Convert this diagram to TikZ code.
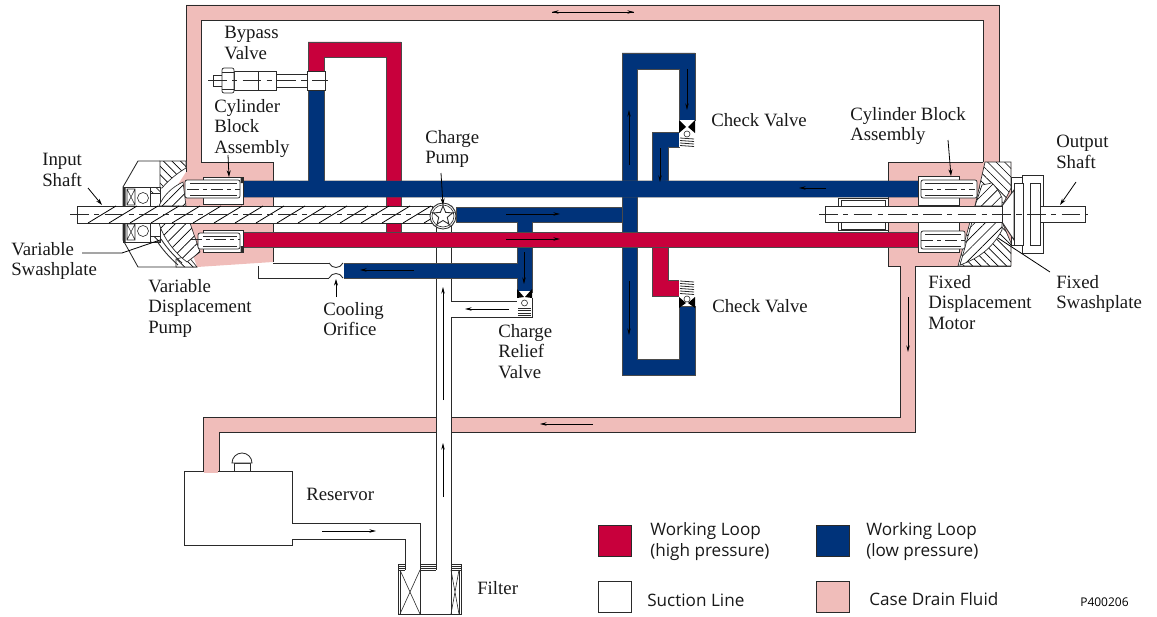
\documentclass[tikz,border=0pt]{standalone}
\usepackage{fontspec}
\setmainfont{Liberation Serif}
\newfontfamily\legendfont{Open Sans}
\usetikzlibrary{patterns.meta,arrows.meta}
\definecolor{hired}{HTML}{C8003C}
\definecolor{lowblue}{HTML}{00337A}
\definecolor{casepink}{HTML}{F0BDBA}
\definecolor{edge}{HTML}{2A2A2A}
\tikzset{
  pipeH/.style={fill=hired,draw=edge!85,line width=0.5pt},
  pipeL/.style={fill=lowblue,draw=edge!85,line width=0.5pt},
  ln/.style={draw=edge,line width=0.65pt},
  thin ln/.style={draw=edge,line width=0.45pt},
  hatch ln/.style={draw=black,line width=0.6pt},
  flow/.style={draw=black,line width=0.55pt,-{Stealth[length=5pt,width=2.6pt]}},
  lead/.style={draw=black,line width=0.6pt,-{Stealth[length=5pt,width=3pt]}},
  center dash/.style={draw=edge,line width=0.45pt,dash pattern=on 14pt off 4pt on 4pt off 4pt},
  short dash/.style={draw=edge,line width=0.45pt,dash pattern=on 9pt off 3pt on 3pt off 3pt},
  hatchA/.style={draw=edge,line width=0.5pt,preaction={fill=white},pattern={Lines[angle=45,distance=5.5pt,line width=0.5pt]},pattern color=black},
  hatchB/.style={draw=edge,line width=0.5pt,preaction={fill=white},pattern={Lines[angle=-45,distance=4.5pt,line width=0.5pt]},pattern color=black},
  lab/.style={anchor=north west,inner sep=0pt,align=left,font=\fontsize{14.1}{15.5}\selectfont,text=black!90},
  leg/.style={anchor=west,inner sep=0pt,align=left,font=\legendfont\fontsize{12.85}{15.6}\selectfont,text=black!90},
  swatch/.style={draw=edge,line width=0.5pt},
  whitebox/.style={fill=white,draw=edge,line width=0.55pt}
}
\begin{document}
\begin{tikzpicture}[x=0.75pt,y=-0.75pt]
\useasboundingbox (0,0) rectangle (1157,617);
% ---- case drain
\fill[casepink] (165,205) -- (186,172) -- (186,5) -- (999,5) -- (999,170) -- (983,170) -- (983,20) -- (201,20) -- (201,162) -- (273,162) -- (273,262) -- (197,267) -- (165,250) -- cycle;
\draw[ln] (186,172) -- (186,5) -- (999,5) -- (999,162);
\draw[ln] (983,162) -- (983,20) -- (201,20) -- (201,162) -- (273,162) -- (273,262);
\fill[casepink] (888,162) -- (1011,162) -- (1011,266) -- (915,266) -- (915,432) -- (219,432) -- (219,471) -- (203,471) -- (203,417) -- (900,417) -- (900,266) -- (888,266) -- cycle;
\draw[ln] (983,162) -- (888,162) -- (888,266) -- (900,266) -- (900,417) -- (203,417) -- (203,471);
\draw[ln] (219,471) -- (219,432) -- (915,432) -- (915,266) -- (1011,266);
% ---- reservoir
\draw[ln,fill=white] (420,614) -- (420,523) -- (292,523) -- (292,471) -- (184,471) -- (184,545) -- (292,545) -- (292,539) -- (405,539) -- (405,570);
\fill[casepink] (204,470) rectangle (218,473);
\draw[ln,fill=white] (234,471) -- (234,463) -- (250,463) -- (250,471);
\draw[ln,fill=white] (232,463) arc[start angle=180,end angle=360,radius=10] -- cycle;
% ---- filter
\foreach \y in {564,566,568,570}{
  \draw[thin ln] (398,\y) -- (405,\y);
  \draw[thin ln] (420,\y) -- (436,\y);
  \draw[thin ln] (451,\y) -- (461,\y);
}
\draw[ln] (398,564) -- (398,614) -- (461,614) -- (461,564);
\draw[thin ln] (400,570) -- (400,614);
\draw[thin ln] (459,570) -- (459,614);
\draw[thin ln] (400,614) -- (420,570) (400,570) -- (420,614);
\draw[thin ln] (451,614) -- (459,570) (451,570) -- (459,614);
% ---- suction
\fill[white] (436,222) rectangle (451,570);
\draw[ln] (436,222) -- (436,570);
\draw[ln] (451,222) -- (451,301) -- (517,301);
\draw[ln] (451,614) -- (451,317) -- (517,317);
\draw[ln] (273,263) -- (330,263);
\draw[ln] (258,266) -- (258,278) -- (330,278);
% ---- high pressure
\draw[pipeH] (308,71) -- (308,42) -- (401,42) -- (401,247) -- (386,247) -- (386,57) -- (324,57) -- (324,71) -- cycle;
\draw[pipeH] (652,240) -- (668,240) -- (668,280) -- (679,280) -- (679,296) -- (652,296) -- cycle;
% ---- low pressure
\draw[pipeL] (622,375) -- (622,53) -- (695,53) -- (695,120) -- (679,120) -- (679,69) -- (637,69) -- (637,359) -- (679,359) -- (679,306) -- (695,306) -- (695,375) -- cycle;
\draw[pipeL] (652,185) -- (652,132) -- (679,132) -- (679,147) -- (668,147) -- (668,185) -- cycle;
\draw[pipeL] (308,185) -- (308,90) -- (324,90) -- (324,185) -- cycle;
\draw[pipeL] (243,181) -- (308,181) (324,181) -- (652,181) (668,181) -- (918,181) -- (918,197) -- (243,197) -- cycle;
\fill[lowblue] (243.3,181.3) rectangle (917.7,196.7);
\draw[pipeL] (456,207) -- (622,207) -- (622,222) -- (532,222) -- (532,292) -- (517,292) -- (517,278) -- (343,278) -- (343,263) -- (517,263) -- (517,222) -- (456,222) -- cycle;
\draw[pipeH] (243,232) rectangle (918,247);
% ---- cooling orifice
\fill[white] (329,262.5) rectangle (344,278.5);
\draw[ln] (329,263) .. controls (332,269) and (340,269) .. (343,263);
\draw[ln] (329,278) .. controls (332,272) and (340,272) .. (343,278);
% ---- upper check valve
\fill[white] (679,120) rectangle (695,147);
\fill[black] (679,120) -- (686,127) -- (679,133) -- cycle;
\fill[black] (695,120) -- (688,127) -- (695,133) -- cycle;
\draw[thin ln] (687,134) circle[radius=3];
\foreach \y in {138,140.5,...,146}{\draw[draw=edge,line width=0.6pt] (680,\y) -- (694,\y+1);}
% ---- lower check valve
\fill[white] (679,280) rectangle (695,306);
\fill[black] (679,297) -- (686,303) -- (679,308) -- cycle;
\fill[black] (695,297) -- (688,303) -- (695,308) -- cycle;
\draw[thin ln] (687,299) circle[radius=3];
\foreach \y in {281,283.5,...,294}{\draw[draw=edge,line width=0.6pt] (680,\y) -- (694,\y+1);}
% ---- relief valve
\fill[white] (517,291) rectangle (532,317);
\fill[black] (517,289) -- (524,297) -- (517,298) -- cycle;
\fill[black] (532,289) -- (525,297) -- (532,298) -- cycle;
\draw[ln] (532,298) -- (532,317) -- (517,317);
\draw[thin ln] (524.5,303) circle[radius=3];
\foreach \y in {308,310.5,...,316}{\draw[draw=edge,line width=0.6pt] (518,\y) -- (531,\y);}
% ---- bypass valve
\draw[whitebox] (307,71) rectangle (325,90);
\draw[whitebox] (276,74) rectangle (307,87);
\draw[whitebox] (234,71) rectangle (276,90);
\draw[ln] (258,71) -- (258,90);
\draw[whitebox] (213,75) rectangle (222,86);
\draw[whitebox,rounded corners=1.5pt] (222,68) rectangle (234,93);
\draw[thin ln] (222,72) -- (234,72) (222,89) -- (234,89);
\draw[center dash] (208,80.5) -- (328,80.5);
% ---- left housing
\draw[ln,fill=white] (160,161) -- (138,161) -- (123,187) -- (123,240) -- (138,267) -- (197,267);
\draw[hatchB] (160,161) -- (186,161) -- (186,168) .. controls (176,174) and (168,181) .. (162,188) -- (160,188) -- cycle;
\draw[hatchB] (176,259) -- (188,256) -- (197,267) -- (176,267) -- cycle;
\draw[hatchB] (123,187) rectangle (160,193);
\draw[hatchB] (123,236) rectangle (160,242);
\draw[ln,fill=white] (123,187) rectangle (150,206);
\draw[ln,fill=white] (123,223) rectangle (150,242);
\draw[ln,fill=white] (150,193) rectangle (160,206);
\draw[ln,fill=white] (150,223) rectangle (160,236);
\draw[thin ln] (127,189) rectangle (135,205) (127,189) -- (135,205) (135,189) -- (127,205);
\draw[thin ln] (127,224) rectangle (135,240) (127,224) -- (135,240) (135,224) -- (127,240);
\draw[thin ln,fill=white] (143,198) circle[radius=5.5];
\draw[thin ln,fill=white] (143,231) circle[radius=5.5];
\fill[edge] (123,187) rectangle (125.5,206) (123,223) rectangle (125.5,242);
% left swashplate
\draw[hatchA] (183,182) .. controls (172,187) and (163,196) .. (159,206) -- (186,206) -- cycle;
\draw[hatchA] (159,223) .. controls (163,238) and (176,254) .. (187,262) -- (200,252) -- (190,223) -- cycle;
\draw[ln] (157,241) .. controls (162,249) and (170,258) .. (178,265);
\draw[ln] (161,239) .. controls (166,247) and (174,256) .. (182,263);
% left cylinders
\draw[whitebox] (203,177) rectangle (243,204);
\draw[whitebox,rounded corners=1.5pt] (185,180) rectangle (240,198);
\draw[thin ln] (190,183) -- (237,183) (190,195) -- (237,195);
\draw[short dash] (187,189) -- (240,189);
\draw[whitebox] (203,230) rectangle (243,252);
\draw[whitebox,rounded corners=1.5pt] (198,233) rectangle (240,249);
\draw[thin ln] (203,236) -- (237,236) (203,246) -- (237,246);
\draw[short dash] (190,239.5) -- (240,239.5);
\fill[edge] (240.5,177) rectangle (243,183) (240.5,246) rectangle (243,252);
% input shaft
\draw[ln,fill=white] (77,206) rectangle (432,223);
\foreach \x in {88,109,...,424}{\draw[hatch ln] (\x,223) -- (\x+28,206);}
\draw[center dash] (70,214.5) -- (430,214.5);
% charge pump
\draw[ln,fill=white] (443,216) circle[radius=13];
\begin{scope}[shift={(443,216)}]
  \draw[thin ln] (0,0) circle[radius=11];
  \draw[ln,fill=white] (270:10) -- (306:4.5) -- (342:10) -- (18:4.5) -- (54:10) -- (90:4.5) -- (126:10) -- (162:4.5) -- (198:10) -- (234:4.5) -- cycle;
  \draw[thin ln] (270:10) -- (270:13) (342:10) -- (342:13) (54:10) -- (54:13) (126:10) -- (126:13) (198:10) -- (198:13);
\end{scope}
% ---- right motor
\draw[hatchB] (985,162) -- (1011,162) -- (1011,188) -- (1002,206) -- (975,206) -- cycle;
\draw[hatchB] (958,266) -- (1011,266) -- (1011,243) -- (1002,222) -- (970,222) -- cycle;
\draw[hatchA] (975,206) -- (982,185) -- (992,183) .. controls (997,188) and (1000,193) .. (1002,198) -- (1002,206) -- cycle;
\draw[hatchA] (972,222) -- (960,265) .. controls (977,259) and (992,249) .. (1002,230) -- (1002,222) -- cycle;
\draw[whitebox] (838,198) rectangle (888,230);
\draw[thin ln] (841,200) rectangle (885,229);
\draw[whitebox] (918,176) rectangle (959,205);
\draw[whitebox,rounded corners=1.5pt] (921,180) rectangle (977,198);
\draw[thin ln] (925,183) -- (973,183) (925,195) -- (973,195);
\draw[short dash] (921,189) -- (975,189);
\draw[whitebox] (918,222) rectangle (959,252);
\draw[whitebox,rounded corners=1.5pt] (921,231) rectangle (965,249);
\draw[thin ln] (925,234) -- (961,234) (925,246) -- (961,246);
\draw[short dash] (921,240) -- (966,240);
\draw[ln,fill=white] (1011,177) -- (1022,177) -- (1022,245) -- (1011,245) -- cycle;
\draw[ln,fill=white] (1022,175) rectangle (1043,253);
\draw[ln,fill=white] (1002,206) -- (1014,190) -- (1014,240) -- (1002,222) -- cycle;
\draw[ln,fill=white] (1014,183) rectangle (1023,245);
\draw[ln,fill=white] (1030,183) rectangle (1040,245);
\draw[ln,fill=white] (825,206) rectangle (1002,222);
\draw[ln,fill=white] (1040,206) rectangle (1085,222);
\draw[center dash] (819,214) -- (1088,214);
% ---- flow arrows
\draw[flow] (552,12) -- (634,12);
\draw[flow] (634,12) -- (552,12);
\draw[flow] (826,188) -- (799,188);
\draw[flow] (506,214) -- (560,214);
\draw[flow] (506,239) -- (560,239);
\draw[flow] (414,270) -- (360,270);
\draw[flow] (524,252) -- (524,284);
\draw[flow] (509,309) -- (465,309);
\draw[flow] (443,400) -- (443,287);
\draw[flow] (443,497) -- (443,443);
\draw[flow] (322,531) -- (376,531);
\draw[flow] (593,424) -- (540,424);
\draw[flow] (908,297) -- (908,352);
\draw[flow] (629,165) -- (629,110);
\draw[flow] (687,69) -- (687,110);
\draw[flow] (660,148) -- (660,182);
\draw[flow] (629,281) -- (629,335);
% ---- leaders
\draw[lead] (88,188) -- (102,205);
\draw[lead] (228,155) -- (229,177);
\draw[lead] (441,173) -- (443,205);
\draw[lead] (336,297) -- (336,279);
\draw[lead] (948,140) -- (951,176);
\draw[lead] (1076,182) -- (1060,205);
\draw[draw=black,line width=0.6pt] (1050,272) -- (998,238);
\draw[draw=black,line width=0.6pt] (82,253) -- (122,253) -- (160,240);
% ---- labels
\node[lab] (bypass) at (224,26) {Bypass\\Valve};
\node[lab] (cylL) at (214,99) {Cylinder\\Block\\Assembly};
\node[lab] (input) at (42,153) {Input\\Shaft};
\node[lab] (swashL) at (11,242) {Variable\\Swashplate};
\node[lab] (pumpV) at (148,279) {Variable\\Displacement\\Pump};
\node[lab] (charge) at (425,130) {Charge\\Pump};
\node[lab] (cool) at (323,302) {Cooling\\Orifice};
\node[lab] (relief) at (498,324) {Charge\\Relief\\Valve};
\node[lab] (chk1) at (711,113) {Check Valve};
\node[lab] (chk2) at (712,299) {Check Valve};
\node[lab] (cylR) at (850,107) {Cylinder Block\\Assembly};
\node[lab] (output) at (1056,135) {Output\\Shaft};
\node[lab] (motor) at (928,275) {Fixed\\Displacement\\Motor};
\node[lab] (swashR) at (1056,275) {Fixed\\Swashplate};
\node[lab] (res) at (306,488) {Reservor};
\node[lab] (filt) at (477,581) {Filter};
% ---- legend
\draw[swatch,fill=hired] (598,525) rectangle (631,556);
\draw[swatch,fill=lowblue] (816,525) rectangle (849,556);
\draw[swatch,fill=white] (598,581) rectangle (631,612);
\draw[swatch,fill=casepink] (816,581) rectangle (849,612);
\node[leg] (lhigh) at (650,541.5) {Working Loop\\(high pressure)};
\node[leg] (llow) at (866,541.5) {Working Loop\\(low pressure)};
\node[leg] (lsuc) at (647,600) {Suction Line};
\node[leg] (lcase) at (869,599) {Case Drain Fluid};
\node[anchor=west,inner sep=0pt,font=\legendfont\fontsize{9}{10}\selectfont] (code) at (1080,602) {P400206};
\end{tikzpicture}
\end{document}
